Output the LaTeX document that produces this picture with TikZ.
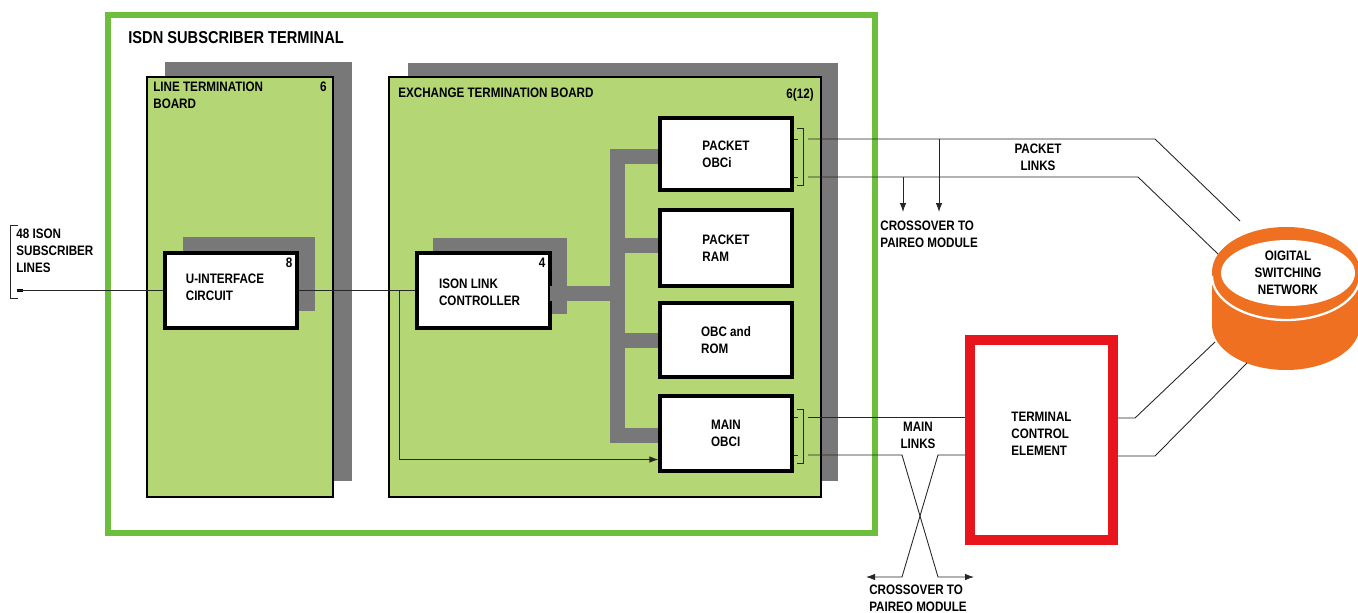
\documentclass[tikz,border=0pt]{standalone}
\usepackage{fontspec}
\setmainfont{Liberation Sans}[FakeStretch=0.85]
\usepackage{tikz}
\usetikzlibrary{arrows.meta,positioning,calc,fit,backgrounds}
\definecolor{frameg}{RGB}{108,190,60}
\definecolor{boardg}{RGB}{180,214,116}
\definecolor{shad}{RGB}{120,120,120}
\definecolor{tcered}{RGB}{232,22,28}
\definecolor{dsnor}{RGB}{238,112,32}
\tikzset{
  board/.style={draw,line width=0.8pt,fill=boardg,inner sep=0pt},
  shd/.style  ={fill=shad,inner sep=0pt},
  unit/.style ={draw,line width=1.8pt,fill=white,inner sep=0pt,align=left,
                font=\bfseries\fontsize{7.8}{9.6}\selectfont},
  tag/.style  ={inner sep=0pt,align=left,font=\bfseries\fontsize{7.8}{9.6}\selectfont},
  lnk/.style  ={black!85,line width=0.5pt},
  ar/.style   ={-{Latex[length=1.8mm,width=1.3mm]},black!85,line width=0.5pt},
  bus/.style  ={shad,line width=0.3cm},
}
\begin{document}
\begin{tikzpicture}[x=0.02cm,y=-0.02cm]
  \useasboundingbox (0,0) rectangle (1358,612);
  % terminal frame
  \node[draw=frameg,line width=3.4pt,inner sep=0pt,fit={(108,15)(875,533)}] (term) {};
  \node[tag,font=\bfseries\fontsize{9.8}{11}\selectfont,anchor=west] (termlbl) at (128,38) {ISDN SUBSCRIBER TERMINAL};
  % boards with shadows
  \node[shd,fit={(165,62)(352,481)}] (ltbsh) {};
  \node[board,fit={(147,77)(333,497)}] (ltb) {};
  \node[tag,anchor=north west] (ltblbl) at (153,82) {LINE TERMINATION\\BOARD};
  \node[tag,anchor=north east] (ltbnum) at (327,82) {6};
  \node[shd,fit={(408,63)(838,481)}] (etbsh) {};
  \node[board,fit={(389,77)(821,497)}] (etb) {};
  \node[tag,anchor=north west] (etblbl) at (398,88) {EXCHANGE TERMINATION BOARD};
  \node[tag,anchor=north east] (etbnum) at (814,88) {6(12)};
  % circuit units
  \node[shd,fit={(183,237)(315,311)}] (uicsh) {};
  \node[unit,fit={(165,253)(297,328)}] (uic) {};
  \node[tag] at ($(uic.center)+(-6,-3)$) {U-INTERFACE\\CIRCUIT};
  \node[tag,anchor=north east] at ($(uic.north east)+(-6,6)$) {8};
  \node[shd,fit={(433,238)(567,314)}] (ilcsh) {};
  \node[unit,fit={(417,253)(550,328)}] (ilc) {};
  \node[tag] at ($(ilc.center)+(-4,2)$) {ISON LINK\\CONTROLLER};
  \node[tag,anchor=north east] at ($(ilc.north east)+(-6,6)$) {4};
  % bus
  \draw[bus] (660,156) -| (617,435) -- (660,435);
  \draw[bus] (617,245) -- (660,245);
  \draw[bus] (617,340) -- (660,340);
  \draw[bus] (550,293) -- (617,293);
  \node[unit,fit={(660,118)(792,190)}] (pob) {};
  \node[tag] at (pob.center) {PACKET\\OBCi};
  \node[unit,fit={(660,210)(792,286)}] (prm) {};
  \node[tag] at (prm.center) {PACKET\\RAM};
  \node[unit,fit={(660,303)(792,377)}] (orm) {};
  \node[tag] at (orm.center) {OBC and\\ROM};
  \node[unit,fit={(660,396)(792,471)}] (mob) {};
  \node[tag] at (mob.center) {MAIN\\OBCI};
  % terminal control element
  \node[draw=tcered,line width=0.2cm,fill=white,inner sep=0pt,fit={(970,340)(1113,540)}] (tce) {};
  \node[tag] at ($(tce.center)+(0,-6)$) {TERMINAL\\CONTROL\\ELEMENT};
  % digital switching network
  \fill[dsnor] (1286,325) ellipse[x radius=74,y radius=45];
  \fill[dsnor] (1212,272) rectangle (1360,325);
  \fill[dsnor] (1286,272) ellipse[x radius=74,y radius=45];
  \draw[white,line width=1.3pt] (1212,276) arc[start angle=180,end angle=0,x radius=74,y radius=44];
  \fill[white] (1288,273) ellipse[x radius=67,y radius=33];
  \node[tag,align=center] (dsn) at (1288,273) {OIGITAL\\SWITCHING\\NETWORK};
  \coordinate (dsn1) at (1240,221);
  \coordinate (dsn2) at (1218,254);
  \coordinate (dsn3) at (1215,342);
  \coordinate (dsn4) at (1247,363);
  % subscriber lines
  \coordinate (sub) at (17,290.5);
  \draw[lnk] (18,225) -- (10,225) -- (10,298) -- (18,298);
  \draw[line width=1.2pt] (17,290.5) -- (23,290.5);
  \node[tag,anchor=north west] (sublbl) at (16,229) {48 ISON\\SUBSCRIBER\\LINES};
  \draw[lnk] (sub) -- (uic.west);
  \draw[lnk] (uic.east) -- (ilc.west);
  \coordinate (jn) at (399,290.5);
  \draw[ar] (jn) |- ($(mob.west)+(0,26)$);
  % packet links
  \draw[lnk] (pob.east |- 0,139) -- (798,139);
  \draw[lnk] (pob.east |- 0,177) -- (798,177);
  \draw[lnk] (797,128) -- (803,128) -- (803,185) -- (797,185);
  \coordinate (pk1) at (808,139);
  \coordinate (pk2) at (808,177);
  \draw[lnk] (pk1) -- (1155,139) -- (dsn1);
  \draw[lnk] (pk2) -- (1138,177) -- (dsn2);
  \coordinate (xa) at (939,139);
  \coordinate (xb) at (903,177);
  \draw[ar] (xa) -- (939,212);
  \draw[ar] (xb) -- (903,212);
  \node[tag,anchor=north west] (xlbl1) at (880,221) {CROSSOVER TO\\PAIREO MODULE};
  \node[tag,align=center] (pklbl) at (1038,157) {PACKET\\LINKS};
  % main links
  \draw[lnk] (mob.east |- 0,417) -- (798,417);
  \draw[lnk] (mob.east |- 0,455) -- (798,455);
  \draw[lnk] (797,409) -- (803,409) -- (803,463) -- (797,463);
  \coordinate (mn1) at (808,417);
  \coordinate (mn2) at (808,455);
  \draw[lnk] (mn1) -- (tce.west |- 0,417);
  \draw[ar] (mn2) -- (902,455) -- (938,577) -- (974,577);
  \draw[ar] (tce.west |- 0,455) -- (938,455) -- (902,577) -- (866,577);
  \node[tag,align=center] (mnlbl) at (918,435) {MAIN\\LINKS};
  \node[tag,anchor=north] (xlbl2) at (918,585) {CROSSOVER TO\\PAIREO MODULE};
  \draw[lnk] (tce.east |- 0,418) -- (1135,418) -- (dsn3);
  \draw[lnk] (tce.east |- 0,456) -- (1155,456) -- (dsn4);
\end{tikzpicture}
\end{document}
